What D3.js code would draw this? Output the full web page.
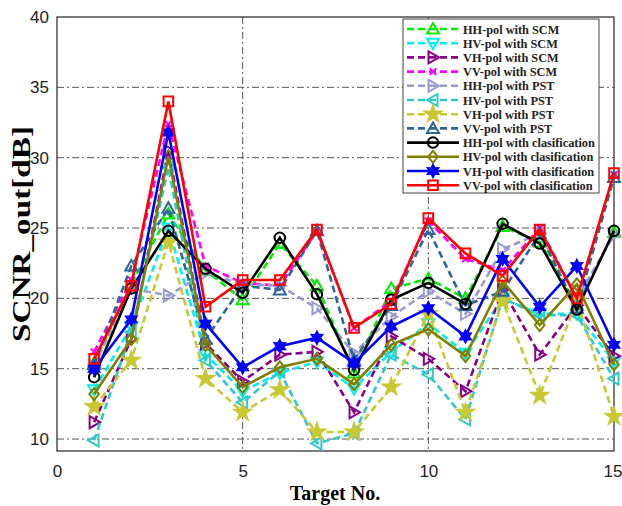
<!DOCTYPE html>
<html>
<head>
  <title>SCNR out</title>
  <script src="https://d3js.org/d3.v7.min.js"></script>
  <style>
    body { margin: 0; background: #fff; }
  </style>
</head>
<body>
  <div id="chart"></div>
  <script type="text/javascript">

  var targets = d3.range(1, 16);
  var xTicks = [0, 5, 10, 15];
  var yTicks = [10, 15, 20, 25, 30, 35, 40];

  var seriesNames = ["HH-pol with SCM", "HV-pol with SCM", "VH-pol with SCM", "VV-pol with SCM",
    "HH-pol with PST", "HV-pol with PST", "VH-pol with PST", "VV-pol with PST",
    "HH-pol with clasification", "HV-pol with clasification", "VH-pol with clasification", "VV-pol with clasification"];

  var hhSCM = [15.4, 21.0, 26.0, 22.0, 19.9, 23.9, 20.9, 14.7, 20.7, 21.4, 20.0, 25.1, 24.0, 19.5, 24.7];
  var hvSCM = [13.5, 18.0, 25.0, 16.0, 13.4, 14.7, 15.5, 13.6, 16.2, 18.2, 16.1, 20.0, 18.9, 18.9, 15.5];
  var vhSCM = [11.2, 17.1, 30.5, 16.8, 14.1, 16.0, 16.2, 11.9, 17.3, 15.7, 13.4, 20.6, 16.0, 19.5, 15.9];
  var vvSCM = [16.2, 21.3, 32.4, 22.3, 21.1, 20.9, 24.8, 17.9, 19.8, 25.5, 22.8, 22.0, 25.0, 20.0, 28.8];
  var hhPST = [15.2, 20.7, 20.2, 21.8, 21.0, 20.9, 19.3, 16.1, 18.7, 20.5, 18.9, 23.5, 24.6, 20.0, 24.5];
  var hvPST = [9.9, 17.6, 29.3, 15.6, 12.6, 14.8, 9.7, 10.4, 16.0, 14.6, 11.4, 20.0, 18.8, 18.8, 14.3];
  var vhPST = [12.3, 15.6, 24.0, 14.3, 11.9, 13.5, 10.5, 10.5, 13.7, 18.9, 11.9, 19.8, 13.1, 19.8, 11.6];
  var vvPST = [15.3, 22.3, 26.4, 17.1, 20.9, 20.6, 24.8, 15.6, 19.5, 24.9, 19.5, 20.5, 24.6, 19.3, 28.6];
  var hhCls = [14.4, 20.7, 24.8, 22.1, 20.4, 24.3, 20.3, 14.9, 19.9, 21.1, 19.6, 25.3, 23.9, 19.2, 24.8];
  var hvCls = [13.2, 17.1, 30.1, 16.7, 13.7, 15.1, 15.7, 13.9, 16.7, 17.8, 15.9, 21.2, 18.1, 21.0, 15.3];
  var vhCls = [15.0, 18.5, 31.8, 18.2, 15.1, 16.6, 17.2, 15.4, 18.0, 19.3, 17.3, 22.8, 19.4, 22.3, 16.7];
  var vvCls = [15.7, 20.9, 34.0, 19.4, 21.3, 21.3, 24.9, 17.9, 19.6, 25.7, 23.2, 21.6, 24.9, 20.0, 28.9];

  var allValues = [hhSCM, hvSCM, vhSCM, vvSCM, hhPST, hvPST, vhPST, vvPST, hhCls, hvCls, vhCls, vvCls];
  var colors = ["#00ee00", "#00f0f0", "#880088", "#ff00ff", "#9a9ad0", "#33c8c8", "#c8c832", "#2e6696",
    "#000000", "#808000", "#0000ff", "#ff0000"];
  var markers = ["triUp", "triDown", "triRight", "times", "triRight", "triLeft", "star", "triUp",
    "circle", "diamond", "hexagram", "square"];
  var dashed = [true, true, true, true, true, true, true, true, false, false, false, false];

  var width = 622, height = 506;
  var plotL = 57, plotR = 614, plotT = 17, plotB = 451;

  var svg = d3.select("#chart").append("svg").attr("width", width).attr("height", height);

  var x = d3.scaleLinear().domain([0, 15]).range([plotL, plotR]);
  var y = d3.scaleLinear().domain([9.15, 40]).range([plotB, plotT]);

  // grid (dash-dot)
  svg.append("g").selectAll("line").data(yTicks.filter(function(d){ return d < 40; })).enter().append("line")
    .attr("x1", plotL).attr("x2", plotR)
    .attr("y1", function(d){ return y(d); }).attr("y2", function(d){ return y(d); })
    .attr("stroke", "#555").attr("stroke-width", 1).attr("stroke-dasharray", "7,3,2,3");
  svg.append("g").selectAll("line").data([5, 10]).enter().append("line")
    .attr("y1", plotT).attr("y2", plotB)
    .attr("x1", function(d){ return x(d); }).attr("x2", function(d){ return x(d); })
    .attr("stroke", "#555").attr("stroke-width", 1).attr("stroke-dasharray", "7,3,2,3");

  // axes
  var yAxis = d3.axisLeft(y).tickValues(yTicks).tickSize(0).tickPadding(8);
  var xAxis = d3.axisBottom(x).tickValues(xTicks).tickSize(0).tickPadding(14);
  var gy = svg.append("g").attr("transform", "translate(" + plotL + ",0)").call(yAxis);
  var gx = svg.append("g").attr("transform", "translate(0," + plotB + ")").call(xAxis);
  [gx, gy].forEach(function(g){
    g.select(".domain").remove();
    g.selectAll("text").attr("font-family", "Liberation Sans, Arial, sans-serif")
      .attr("font-size", 17).attr("fill", "#222");
  });
  // last x label sits at the window edge; pull it in a little
  gx.selectAll("text").filter(function(d){ return d == 15; }).attr("text-anchor", "end").attr("dx", 8);

  svg.append("rect").attr("x", plotL).attr("y", plotT).attr("width", plotR - plotL).attr("height", plotB - plotT)
    .attr("fill", "none").attr("stroke", "#222").attr("stroke-width", 1.2);

  svg.append("text").attr("x", 335).attr("y", 500).attr("text-anchor", "middle")
    .attr("font-family", "Liberation Serif, Times New Roman, serif").attr("font-weight", "bold")
    .attr("font-size", 20).text("Target No.");
  svg.append("text").attr("transform", "translate(30,234) rotate(-90)").attr("text-anchor", "middle")
    .attr("font-family", "Liberation Serif, Times New Roman, serif").attr("font-weight", "bold")
    .attr("font-size", 25).attr("textLength", 216).attr("lengthAdjust", "spacingAndGlyphs")
    .text("SCNR_out[dB]");

  function markerPath(type, s) {
    var h = s / 2;
    if (type == "triUp") return "M0," + (-h) + "L" + h + "," + (h * 0.75) + "L" + (-h) + "," + (h * 0.75) + "Z";
    if (type == "triDown") return "M0," + h + "L" + h + "," + (-h * 0.75) + "L" + (-h) + "," + (-h * 0.75) + "Z";
    if (type == "triRight") return "M" + h + ",0L" + (-h * 0.75) + "," + (-h) + "L" + (-h * 0.75) + "," + h + "Z";
    if (type == "triLeft") return "M" + (-h) + ",0L" + (h * 0.75) + "," + (-h) + "L" + (h * 0.75) + "," + h + "Z";
    if (type == "times") { var a = h * 0.55; return "M" + (-a) + "," + (-a) + "L" + a + "," + a + "M" + a + "," + (-a) + "L" + (-a) + "," + a; }
    if (type == "circle") return d3.symbol(d3.symbolCircle, s * s * 0.6)();
    if (type == "diamond") return "M0," + (-h) + "L" + (h * 0.8) + ",0L0," + h + "L" + (-h * 0.8) + ",0Z";
    if (type == "square") return "M" + (-h * 0.8) + "," + (-h * 0.8) + "H" + (h * 0.8) + "V" + (h * 0.8) + "H" + (-h * 0.8) + "Z";
    if (type == "star") return d3.symbol(d3.symbolStar, s * s * 0.55)();
    if (type == "hexagram") {
      var p = [];
      for (var i = 0; i < 12; i++) {
        var r = i % 2 == 0 ? h : h * 0.55;
        var ang = -Math.PI / 2 + i * Math.PI / 6;
        p.push([r * Math.cos(ang), r * Math.sin(ang)]);
      }
      return "M" + p.join("L") + "Z";
    }
  }
  function markerFill(type, c) {
    return (type == "star" || type == "hexagram") ? c : "none";
  }

  var line = d3.line().x(function(d, i){ return x(targets[i]); }).y(function(d){ return y(d); });

  allValues.forEach(function(vals, k) {
    var g = svg.append("g");
    g.append("path").datum(vals).attr("d", line).attr("fill", "none")
      .attr("stroke", colors[k]).attr("stroke-width", 2.6)
      .attr("stroke-dasharray", dashed[k] ? "7,4" : null);
    g.selectAll("path.m").data(vals).enter().append("path").attr("class", "m")
      .attr("transform", function(d, i){ return "translate(" + x(targets[i]) + "," + y(d) + ")"; })
      .attr("d", markerPath(markers[k], 12))
      .attr("fill", markerFill(markers[k], colors[k]))
      .attr("stroke", colors[k]).attr("stroke-width", 2);
  });

  // legend
  var lx = 403, ly = 19, lw = 196, lh = 174;
  var leg = svg.append("g");
  leg.append("rect").attr("x", lx).attr("y", ly).attr("width", lw).attr("height", lh)
    .attr("fill", "#fff").attr("stroke", "#444").attr("stroke-width", 1);
  var rows = leg.selectAll("g.row").data(seriesNames).enter().append("g").attr("class", "row")
    .attr("transform", function(d, i){ return "translate(0," + (ly + 10 + i * 14.2) + ")"; });
  rows.append("line").attr("x1", lx + 4).attr("x2", lx + 56).attr("y1", 0).attr("y2", 0)
    .attr("stroke", function(d, i){ return colors[i]; }).attr("stroke-width", 2.6)
    .attr("stroke-dasharray", function(d, i){ return dashed[i] ? "7,4" : null; });
  rows.append("path").attr("transform", "translate(" + (lx + 30) + ",0)")
    .attr("d", function(d, i){ return markerPath(markers[i], 12); })
    .attr("fill", function(d, i){ return markerFill(markers[i], colors[i]); })
    .attr("stroke", function(d, i){ return colors[i]; }).attr("stroke-width", 2);
  rows.append("text").attr("x", lx + 60).attr("y", 4.5)
    .attr("font-family", "Liberation Serif, Times New Roman, serif").attr("font-weight", "bold")
    .attr("font-size", 12.3).attr("fill", "#222").text(function(d){ return d; });

  </script>
</body>
</html>
